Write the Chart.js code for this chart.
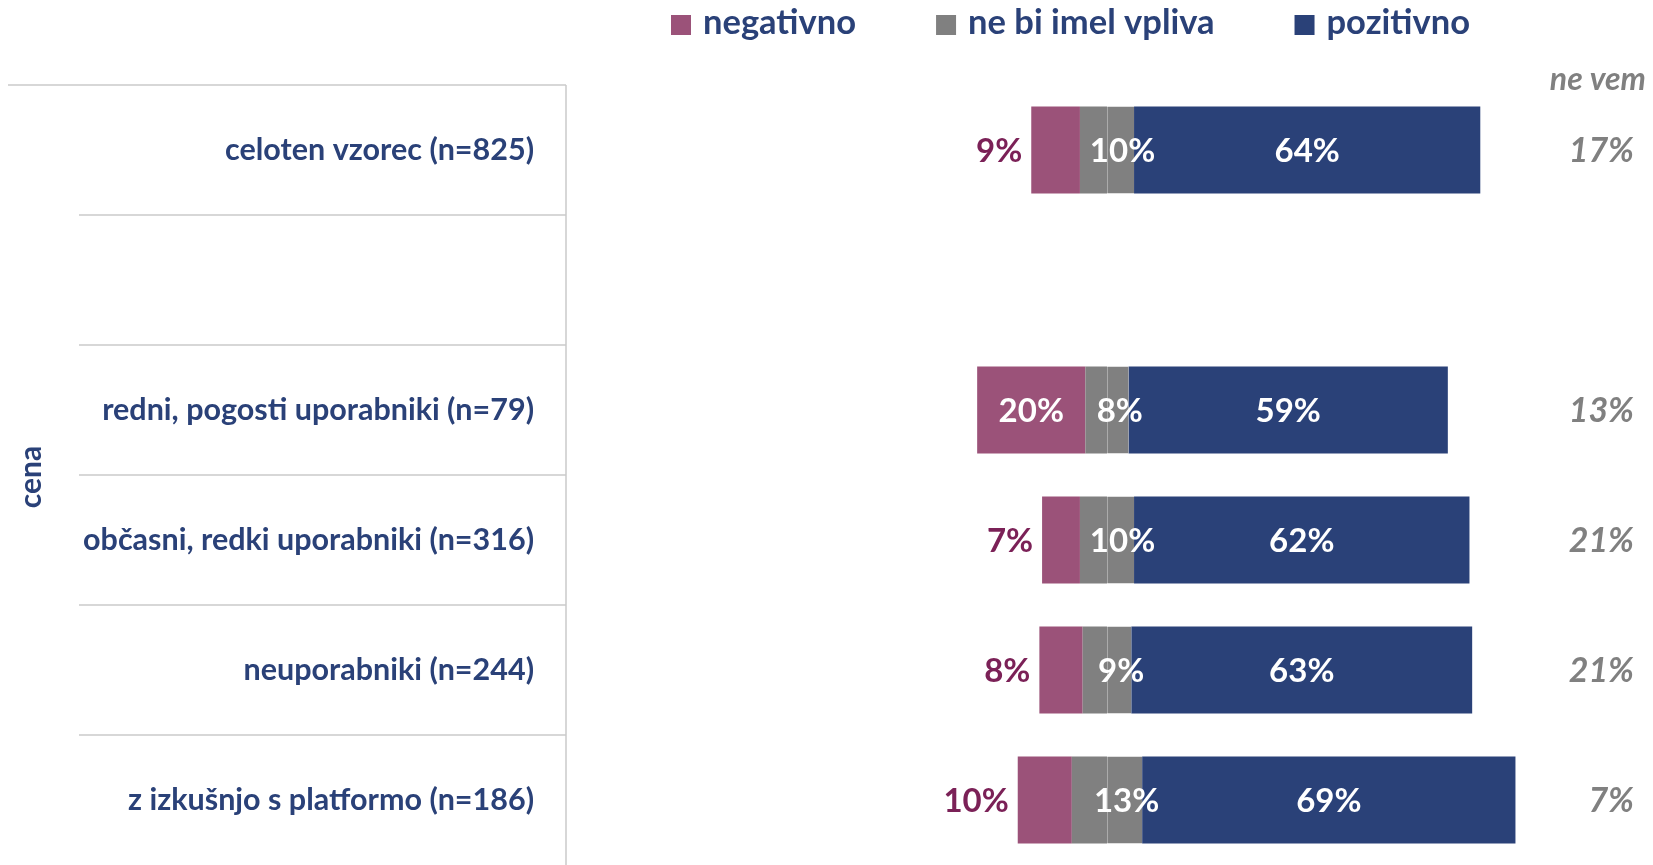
<!DOCTYPE html>
<html>
<head>
<meta charset="utf-8">
<script src="https://cdn.jsdelivr.net/npm/chart.js@4"></script>
<style>
  body { margin: 0; background: #fff; }
  #wrap { width: 1653px; height: 865px; }
</style>
</head>
<body>
<div id="wrap"><canvas id="chart" width="1653" height="865"></canvas></div>
<script>
const categories = [
  'celoten vzorec (n=825)',
  '',
  'redni, pogosti uporabniki (n=79)',
  'občasni, redki uporabniki (n=316)',
  'neuporabniki (n=244)',
  'z izkušnjo s platformo (n=186)'
];
const negativno = [9, null, 20, 7, 8, 10];
const brezVpliva = [10, null, 8, 10, 9, 13];
const pozitivno = [64, null, 59, 62, 63, 69];
const neVem = [17, null, 13, 21, 21, 7];
const legendLabels = ['negativno', 'ne bi imel vpliva', 'pozitivno'];

const NAVY = '#2A4178';
const PURPLE = '#9B5279';
const PURPLE_TEXT = '#7B2157';
const GREY = '#808080';
const LINE = '#CACACA';
const FONT = 'Lato';

const half = v => v == null ? null : v / 2;

// draws table lines, legend, side title and value labels
const decor = {
  id: 'decor',
  afterDraw(chart) {
    const { ctx, chartArea: area, scales: { x, y } } = chart;
    ctx.save();

    // table lines
    ctx.strokeStyle = LINE;
    ctx.lineWidth = 1.5;
    const rowH = y.getPixelForValue(1) - y.getPixelForValue(0);
    categories.forEach((c, i) => {
      const yy = Math.round(y.getPixelForValue(i) - rowH / 2);
      ctx.beginPath();
      ctx.moveTo(i === 0 ? 8 : 79, yy);
      ctx.lineTo(area.left, yy);
      ctx.stroke();
    });
    ctx.beginPath();
    ctx.moveTo(area.left, area.top);
    ctx.lineTo(area.left, area.bottom);
    ctx.stroke();

    // side title
    ctx.save();
    ctx.translate(31, (area.top + area.bottom) / 2 + 2);
    ctx.rotate(-Math.PI / 2);
    ctx.fillStyle = NAVY;
    ctx.font = `bold 30px ${FONT}`;
    ctx.textAlign = 'center';
    ctx.textBaseline = 'middle';
    ctx.fillText('cena', 0, 0);
    ctx.restore();

    // legend
    const legendColors = [PURPLE, GREY, NAVY];
    ctx.font = `bold 34.5px ${FONT}`;
    ctx.textBaseline = 'middle';
    ctx.textAlign = 'left';
    let lx = 671;
    legendLabels.forEach((label, i) => {
      ctx.fillStyle = legendColors[i];
      ctx.fillRect(lx, 15, 20, 20);
      lx += 32;
      ctx.fillStyle = NAVY;
      ctx.fillText(label, lx, 23);
      lx += ctx.measureText(label).width + 80;
    });

    // "ne vem" column
    ctx.fillStyle = GREY;
    ctx.textAlign = 'right';
    ctx.font = `italic bold 32px ${FONT}`;
    ctx.fillText('ne vem', area.right - 2, 80);

    // bar labels
    const negMeta = chart.getDatasetMeta(1);
    const neuMeta = chart.getDatasetMeta(2);
    const posMeta = chart.getDatasetMeta(3);
    categories.forEach((c, i) => {
      if (negativno[i] == null) return;
      const neg = negMeta.data[i];
      const neu = neuMeta.data[i];
      const pos = posMeta.data[i];
      const cy = pos.y + 1;
      ctx.font = `bold 33px ${FONT}`;
      ctx.textBaseline = 'middle';

      if (negativno[i] >= 15) {
        ctx.fillStyle = '#fff';
        ctx.textAlign = 'center';
        ctx.fillText(negativno[i] + '%', (neg.x + neg.base) / 2, cy);
      } else {
        ctx.fillStyle = PURPLE_TEXT;
        ctx.textAlign = 'right';
        ctx.fillText(negativno[i] + '%', Math.min(neg.x, neg.base) - 9, cy);
      }

      ctx.fillStyle = '#fff';
      ctx.textAlign = 'center';
      ctx.fillText(brezVpliva[i] + '%', (neu.x + neu.base) / 2 + 2, cy);
      ctx.fillText(pozitivno[i] + '%', (pos.x + pos.base) / 2, cy);

      ctx.fillStyle = GREY;
      ctx.textAlign = 'right';
      ctx.font = `italic bold 34px ${FONT}`;
      ctx.fillText(neVem[i] + '%', area.right - 14, cy);
    });

    ctx.restore();
  }
};

const barOpts = { barPercentage: 0.67, categoryPercentage: 1, borderWidth: 0 };

new Chart(document.getElementById('chart'), {
  type: 'bar',
  data: {
    labels: categories,
    datasets: [
      { label: 'ne bi imel vpliva', data: brezVpliva.map(v => v == null ? null : -half(v)), backgroundColor: GREY, ...barOpts },
      { label: 'negativno', data: negativno.map(v => v == null ? null : -v), backgroundColor: PURPLE, ...barOpts },
      {
        label: 'ne bi imel vpliva', data: brezVpliva.map(half), backgroundColor: GREY, ...barOpts,
        borderColor: '#ABABAB', borderSkipped: false, borderWidth: { left: 1, top: 0, right: 0, bottom: 0 }
      },
      { label: 'pozitivno', data: pozitivno, backgroundColor: NAVY, ...barOpts }
    ]
  },
  options: {
    indexAxis: 'y',
    responsive: false,
    animation: false,
    layout: { padding: { top: 85, right: 5, left: 0, bottom: 0 } },
    plugins: { legend: { display: false }, tooltip: { enabled: false } },
    scales: {
      x: { display: false, stacked: true, min: -100, max: 100 },
      y: {
        stacked: true,
        grid: { display: false, drawTicks: false },
        border: { display: false },
        ticks: {
          color: NAVY,
          autoSkip: false,
          padding: 32,
          font: { family: FONT, size: 30.5, weight: 'bold' }
        },
        afterFit: s => {
          s.width = 566;
          s.paddingTop = 0;
          s.paddingBottom = 0;
        }
      }
    }
  },
  plugins: [decor]
});
</script>
</body>
</html>
